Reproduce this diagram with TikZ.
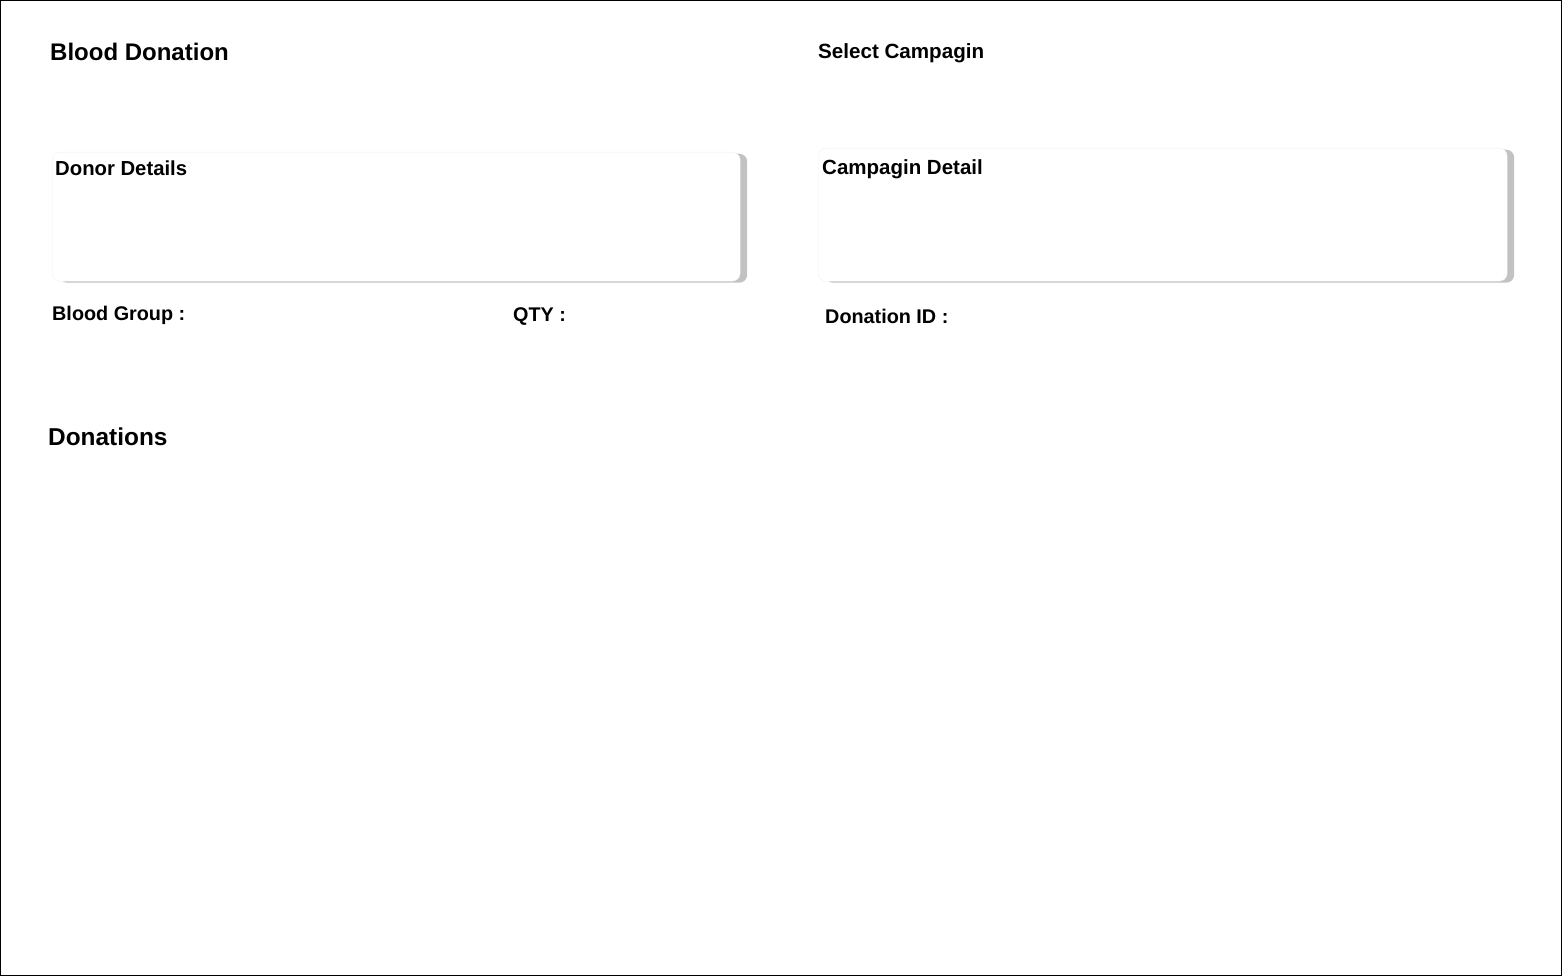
\documentclass[tikz,border=0pt]{standalone}
\usepackage{fontspec}
\setmainfont{Liberation Sans}
\usetikzlibrary{shadows}

\begin{document}
\begin{tikzpicture}[x=1pt, y=-1pt,
  label/.style={anchor=base west, inner sep=0pt, font=\bfseries\fontsize{19.8}{22}\selectfont},
  title/.style={anchor=base west, inner sep=0pt, font=\bfseries\fontsize{24}{27}\selectfont},
  card/.style={rectangle, rounded corners=8pt, draw=black!6, fill=white, anchor=north west,
    drop shadow={shadow xshift=7pt, shadow yshift=-1.5pt, fill=black!24, opacity=1}}]

\useasboundingbox (0,0) rectangle (1562,976);
\draw[black, line width=1pt] (0.5,0.5) rectangle (1561.5,975.5);

\node[card, minimum width=688pt, minimum height=129pt] (donorbox) at (52,152) {};
\node[card, minimum width=689pt, minimum height=133pt] (campbox) at (818,148) {};

\node[title] (title) at (50,61) {Blood Donation};
\node[label, font=\bfseries\fontsize{20.6}{23}\selectfont] (select) at (818,59) {Select Campagin};
\node[label, font=\bfseries\fontsize{20.3}{23}\selectfont] (donor) at (55,175.5) {Donor Details};
\node[label, font=\bfseries\fontsize{20.5}{23}\selectfont] (camp) at (822,174.5) {Campagin Detail};
\node[label] (group) at (52,320.5) {Blood Group :};
\node[label] (qty) at (513,321.5) {QTY :};
\node[label] (donid) at (825,323.5) {Donation ID :};
\node[title, font=\bfseries\fontsize{24.4}{27}\selectfont] (list) at (48,445) {Donations};

\end{tikzpicture}
\end{document}
